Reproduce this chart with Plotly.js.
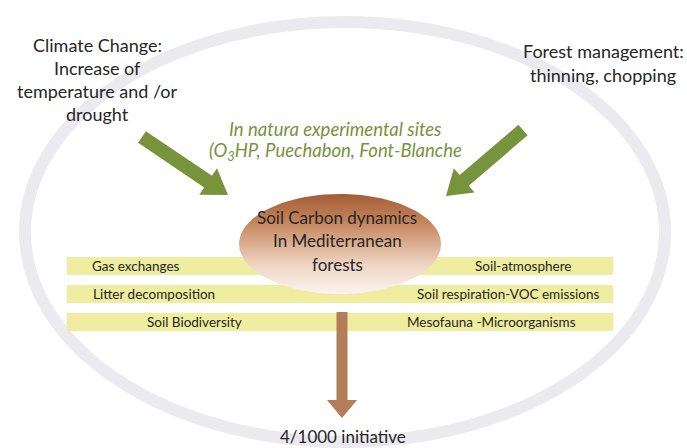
<!DOCTYPE html>
<html>
<head>
<meta charset="utf-8">
<script src="https://cdn.plot.ly/plotly-3.0.1.min.js"></script>
<style>html,body{margin:0;padding:0;background:#fff;}#chart{width:687px;height:448px;}</style>
</head>
<body>
<div id="chart"></div>
<script>
// ---- Text content of the diagram ----
const driverLeftLines = ['Climate Change:', 'Increase of', 'temperature and /or', 'drought'];
const driverRightLines = ['Forest management:', 'thinning, chopping'];
const siteLines = ['<i>In natura experimental sites</i>', '<i>(O<sub>3</sub>HP, Puechabon, Font-Blanche</i>'];
const centerLines = ['Soil Carbon dynamics', 'In Mediterranean', 'forests'];
const processLeft = ['Gas exchanges', 'Litter decomposition', 'Soil Biodiversity'];
const processRight = ['Soil-atmosphere', 'Soil respiration-VOC emissions', 'Mesofauna -Microorganisms'];
const outcomeLabel = '4/1000 initiative';

// ---- Layout geometry (pixel space, y downward) ----
const FONT = 'Lato, "Open Sans", sans-serif';
const TXT = '#262626';
const GREEN = '#77933c';
const rowY = [266, 294, 322];
const leftX = [136, 154, 194];
const rightX = [523, 508, 491];

function arrowPath(x0, y0, x1, y1, sw, hw, hl) {
  const dx = x1 - x0, dy = y1 - y0, L = Math.hypot(dx, dy);
  const ux = dx / L, uy = dy / L, px = -uy, py = ux;
  const bx = x1 - ux * hl, by = y1 - uy * hl;
  const pts = [
    [x0 + px * sw / 2, y0 + py * sw / 2],
    [bx + px * sw / 2, by + py * sw / 2],
    [bx + px * hw / 2, by + py * hw / 2],
    [x1, y1],
    [bx - px * hw / 2, by - py * hw / 2],
    [bx - px * sw / 2, by - py * sw / 2],
    [x0 - px * sw / 2, y0 - py * sw / 2]
  ];
  return 'M' + pts.map(p => p[0].toFixed(1) + ',' + p[1].toFixed(1)).join(' L') + ' Z';
}

const shapes = [];
// outer ring
shapes.push({type: 'circle', xref: 'x', yref: 'y', x0: 25, x1: 665, y0: 22, y1: 442,
  line: {color: '#ebebef', width: 12}, fillcolor: 'rgba(0,0,0,0)', layer: 'below'});
// yellow bands
rowY.forEach(y => shapes.push({type: 'rect', xref: 'x', yref: 'y', x0: 67, x1: 613, y0: y - 9, y1: y + 9,
  line: {width: 0}, fillcolor: '#efed9f', layer: 'below'}));
// green arrows
shapes.push({type: 'path', xref: 'x', yref: 'y', path: arrowPath(142, 137, 228, 195, 14, 32, 24),
  fillcolor: GREEN, line: {width: 0}, layer: 'above'});
shapes.push({type: 'path', xref: 'x', yref: 'y', path: arrowPath(523, 130, 446, 196, 14, 32, 24),
  fillcolor: GREEN, line: {width: 0}, layer: 'above'});
// brown down arrow
shapes.push({type: 'path', xref: 'x', yref: 'y', path: arrowPath(342, 312, 342, 418, 11, 30, 18),
  fillcolor: '#b27d58', line: {width: 0}, layer: 'above'});

// central oval as a filled trace with vertical gradient
const ovalX = [], ovalY = [];
for (let i = 0; i <= 120; i++) {
  const t = 2 * Math.PI * i / 120;
  ovalX.push(340 + 101 * Math.cos(t));
  ovalY.push(244 + 50 * Math.sin(t));
}
const oval = {
  x: ovalX, y: ovalY, type: 'scatter', mode: 'lines', fill: 'toself',
  line: {width: 0, color: 'rgba(0,0,0,0)'}, hoverinfo: 'skip', showlegend: false,
  fillgradient: {type: 'vertical', colorscale: [[0, '#faf4f0'], [0.3, '#eed4c2'], [0.7, '#c68860'], [1, '#a35c36']]}
};

const ann = [];
function addLines(lines, x, y0, dy, size, color) {
  lines.forEach((t, i) => ann.push({text: t, x: x, y: y0 + i * dy, xref: 'x', yref: 'y', showarrow: false,
    xanchor: 'center', yanchor: 'middle', font: {family: FONT, size: size, color: color}}));
}
addLines(driverLeftLines, 97, 45, 23, 18, TXT);
addLines(driverRightLines, 603, 51, 24, 18, TXT);
addLines(siteLines, 335, 129, 22, 18.5, GREEN);
addLines(centerLines, 337, 217, 23.5, 17, TXT);
processLeft.forEach((t, i) => addLines([t], leftX[i], rowY[i], 0, 13.5, TXT));
processRight.forEach((t, i) => addLines([t], rightX[i], rowY[i], 0, 13.5, TXT));
addLines([outcomeLabel], 343, 436, 0, 17, TXT);

const layout = {
  width: 687, height: 448, margin: {l: 0, r: 0, t: 0, b: 0},
  paper_bgcolor: '#ffffff', plot_bgcolor: '#ffffff', showlegend: false,
  xaxis: {range: [0, 687], visible: false, fixedrange: true},
  yaxis: {range: [448, 0], visible: false, fixedrange: true},
  shapes: shapes, annotations: ann
};
Plotly.newPlot('chart', [oval], layout, {staticPlot: true, displayModeBar: false});
</script>
</body>
</html>
